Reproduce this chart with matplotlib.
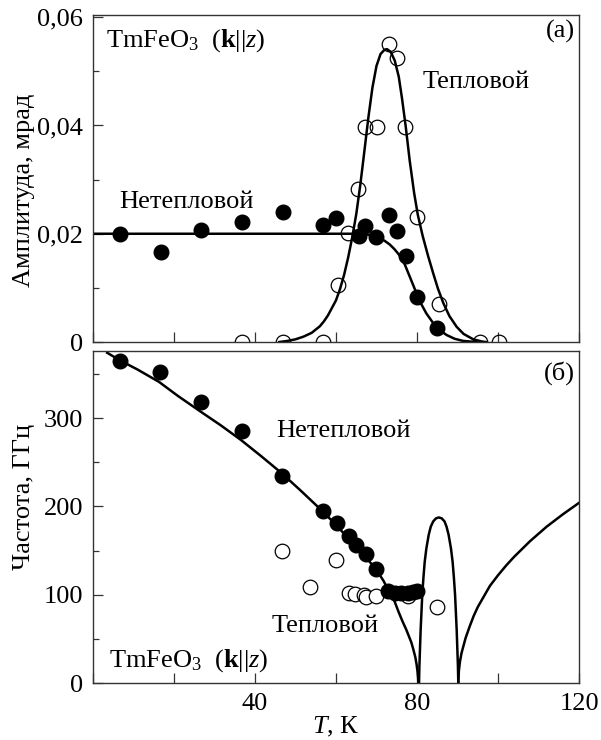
import matplotlib
matplotlib.use("Agg")
import matplotlib.pyplot as plt
from matplotlib.ticker import MultipleLocator, FixedLocator, FixedFormatter

plt.rcParams['font.family'] = ['Liberation Serif', 'DejaVu Serif']
plt.rcParams['mathtext.fontset'] = 'custom'
plt.rcParams['mathtext.rm'] = 'Liberation Serif'
plt.rcParams['mathtext.it'] = 'Liberation Serif:italic'
plt.rcParams['mathtext.bf'] = 'Liberation Serif:bold'

# ---- (a) amplitude data ----
amp_nonthermal_T = [6.6, 16.9, 26.6, 36.7, 46.9, 56.7, 59.9, 65.6, 67.1, 70.0, 73.0, 75.0, 77.2, 80.0, 84.9]
amp_nonthermal_A = [0.0200, 0.0167, 0.0207, 0.0222, 0.0240, 0.0217, 0.0229, 0.0196, 0.0215, 0.0194,
                    0.0234, 0.0205, 0.0159, 0.0084, 0.0025]
amp_thermal_T = [36.7, 46.9, 56.7, 60.5, 62.9, 65.4, 67.1, 70.1, 73.1, 75.0, 77.0, 80.0, 85.4, 95.5, 100.2]
amp_thermal_A = [0.0, 0.0, 0.0, 0.0106, 0.0201, 0.0282, 0.0397, 0.0397, 0.0550, 0.0525, 0.0397,
                 0.0231, 0.0070, 0.0, 0.0]

# fitted curves
amp_fit_nt_T = [0, 66, 67, 68, 70, 72, 73.3, 74.5, 75.7, 77.0, 78.2, 79.5, 80.7, 82.3, 84.0, 85.6,
                87.3, 89.3, 91.4, 94.7]
amp_fit_nt_A = [0.0200, 0.0200, 0.01995, 0.0198, 0.0194, 0.0187, 0.0180, 0.0171, 0.0160, 0.0143,
                0.0121, 0.0097, 0.0075, 0.0053, 0.0035, 0.0022, 0.0013, 0.0006, 0.0002, 0.0]
amp_fit_th_T = [46, 48, 50, 52, 54, 56, 57, 58, 59, 60, 61, 62, 63, 64, 65, 66, 67, 68, 69, 70,
                71, 72, 72.6, 73.5, 74.5, 75.5, 76.3, 77.2, 78.2, 79.3, 80.2, 81.4, 82.7, 84.0,
                85.2, 86.5, 88.0, 89.8, 91.5, 93.9, 96, 97]
amp_fit_th_A = [0.0, 0.0002, 0.0005, 0.0010, 0.0017, 0.0029, 0.0038, 0.0049, 0.0063, 0.0077,
                0.0098, 0.0124, 0.0156, 0.0193, 0.0236, 0.0290, 0.0352, 0.0415, 0.0470, 0.0510,
                0.0532, 0.0540, 0.0541, 0.0536, 0.0520, 0.0490, 0.0450, 0.0399, 0.0335, 0.0275,
                0.0235, 0.0196, 0.0160, 0.0127, 0.0098, 0.0072, 0.0048, 0.0028, 0.0015, 0.0005,
                0.0001, 0.0]

# ---- (б) frequency data ----
freq_nonthermal_T = [6.6, 16.6, 26.6, 36.8, 46.6, 56.8, 60.2, 63.1, 64.9, 67.3, 70.0, 72.8, 74.5,
                     76.0, 77.7, 79.0, 80.0]
freq_nonthermal_f = [365, 352, 318, 285, 234, 195, 181, 166, 156, 146, 129, 104, 102, 102, 102, 103, 104]
freq_thermal_T = [46.6, 53.7, 60.1, 63.2, 64.7, 66.9, 67.3, 70.0, 77.7, 85.0]
freq_thermal_f = [149.5, 109, 139, 102.5, 101, 99.5, 97, 99, 98, 86]

freq_fit1_T = [3.5, 6.8, 11, 16.3, 21, 27, 31.5, 36.6, 41.5, 46.5, 51.5, 56.8, 60, 63, 66, 68, 70,
               71.7, 73.3, 74.5, 75.5, 76.5, 77.3, 78.0, 78.6, 79.1, 79.6, 79.9, 80.1, 80.25, 80.35]
freq_fit1_f = [374, 365, 355, 341, 325, 306, 292, 275, 257, 238, 217, 194, 179, 164, 149, 139, 128,
               116, 102, 92, 80, 69, 61, 53, 46, 38, 29, 21, 14, 7, 0]
freq_fit2_T = [80.5, 80.6, 80.75, 80.9, 81.1, 81.3, 81.6, 81.9, 82.3, 82.9, 83.4, 84.0, 84.7, 85.4,
               86.1, 86.8, 87.3, 87.8, 88.4, 88.8, 89.1, 89.4, 89.6, 89.8, 89.95, 90.1, 90.2]
freq_fit2_f = [0, 20, 40, 60, 80, 100, 120, 137, 152, 168, 177, 183, 186.5, 187.5, 186.5, 183, 177,
               168, 152, 137, 120, 100, 80, 60, 40, 20, 0]
freq_fit3_T = [90.2, 90.35, 90.6, 91, 92, 93, 94, 95, 96.5, 98, 100, 102, 104, 106, 108, 110, 112,
               114, 116, 118, 120]
freq_fit3_f = [0, 14, 24, 34, 51, 64, 76, 86, 98, 110, 122, 133, 143, 152, 161, 169, 177, 184, 191,
               197.5, 204]

x_labels = ['', '', '40', '', '80', '', '120']

fs = 19
spine_color = '#333333'

fig = plt.figure(figsize=(6.01, 7.40), dpi=100)
ax1 = fig.add_axes([0.1547, 0.5378, 0.8087, 0.4419])
ax2 = fig.add_axes([0.1547, 0.0770, 0.8087, 0.4487])


def style_axis(ax):
    for s in ax.spines.values():
        s.set_color(spine_color)
        s.set_linewidth(1.0)
    ax.tick_params(which='both', direction='in', colors=spine_color, labelcolor='black',
                   labelsize=fs, top=False, right=False, pad=7)
    ax.tick_params(which='major', length=7, width=0.9)
    ax.tick_params(which='minor', length=4, width=0.9)
    ax.set_xlim(0, 120)
    ax.xaxis.set_major_locator(FixedLocator([0, 20, 40, 60, 80, 100, 120]))
    ax.xaxis.set_major_formatter(FixedFormatter(x_labels))


# ---------- panel (a) ----------
style_axis(ax1)
ax1.plot(amp_fit_nt_T, amp_fit_nt_A, color='black', lw=1.8)
ax1.plot(amp_fit_th_T, amp_fit_th_A, color='black', lw=1.8)
ax1.plot(amp_nonthermal_T, amp_nonthermal_A, 'o', color='black', ms=10.5)
ax1.plot(amp_thermal_T, amp_thermal_A, 'o', mfc='none', mec='black', mew=0.9, ms=10.5)
ax1.set_ylim(0, 0.0604)
ax1.yaxis.set_major_locator(FixedLocator([0, 0.02, 0.04, 0.06]))
ax1.yaxis.set_major_formatter(FixedFormatter(['0', '0,02', '0,04', '0,06']))
ax1.yaxis.set_minor_locator(FixedLocator([0.01, 0.03, 0.05]))
ax1.tick_params(axis='x', labelbottom=False)
ax1.set_ylabel('Амплитуда, мрад', fontsize=fs)
ax1.yaxis.set_label_coords(-0.12, 0.465)

ax1.text(3.2, 0.0546, r'TmFeO$_3$  ($\mathbf{k}$||$z$)', fontsize=fs)
ax1.text(119, 0.0562, '(a)', fontsize=fs, ha='right')
ax1.text(81.4, 0.0470, 'Тепловой', fontsize=fs)
ax1.text(6.6, 0.0248, 'Нетепловой', fontsize=fs)

# ---------- panel (б) ----------
style_axis(ax2)
ax2.plot(freq_fit1_T, freq_fit1_f, color='black', lw=1.8)
ax2.plot(freq_fit2_T, freq_fit2_f, color='black', lw=1.8)
ax2.plot(freq_fit3_T, freq_fit3_f, color='black', lw=1.8)
ax2.plot(freq_thermal_T, freq_thermal_f, 'o', mfc='white', mec='black', mew=0.9, ms=10.5)
ax2.plot(freq_nonthermal_T, freq_nonthermal_f, 'o', color='black', ms=10.5)
ax2.set_ylim(0, 376)
ax2.yaxis.set_major_locator(MultipleLocator(100))
ax2.yaxis.set_minor_locator(FixedLocator([50, 150, 250, 350]))
ax2.set_ylabel('Частота, ГГц', fontsize=fs)
ax2.yaxis.set_label_coords(-0.12, 0.56)
ax2.set_xlabel('$T$, К', fontsize=fs, labelpad=0)

ax2.text(119, 344, '(б)', fontsize=fs, ha='right')
ax2.text(45.2, 279, 'Нетепловой', fontsize=fs)
ax2.text(44.0, 58, 'Тепловой', fontsize=fs)
ax2.text(4.0, 18.5, r'TmFeO$_3$  ($\mathbf{k}$||$z$)', fontsize=fs)

fig.savefig('out.png', dpi=100)
